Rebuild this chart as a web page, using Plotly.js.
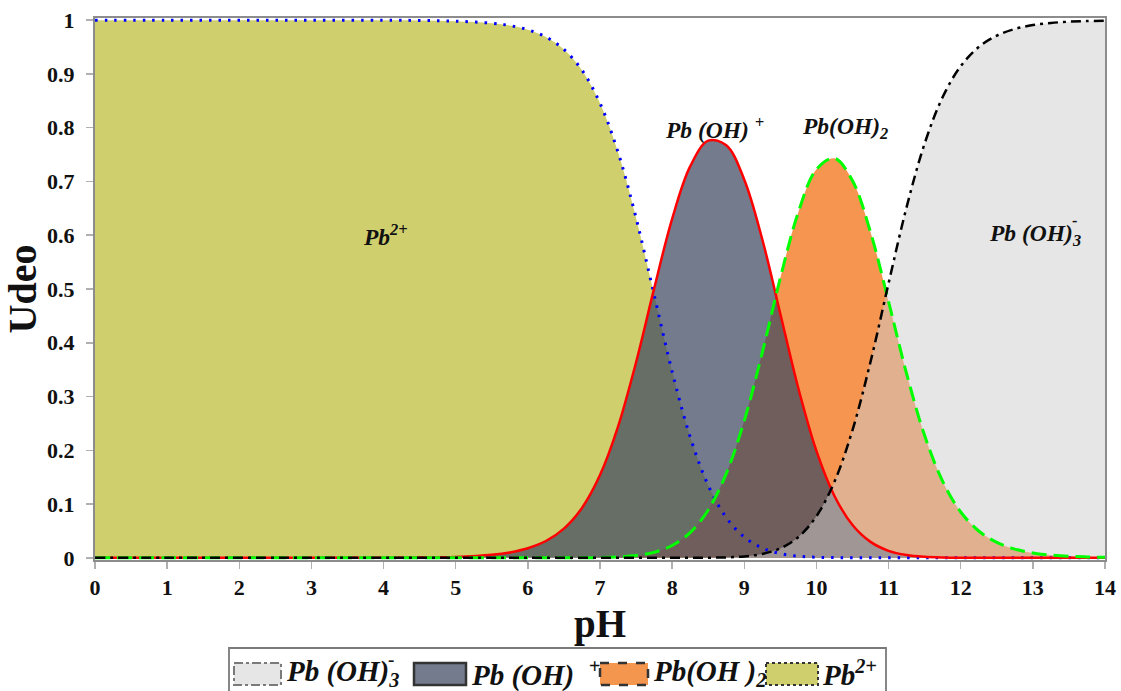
<!DOCTYPE html>
<html>
<head>
<meta charset="utf-8">
<script src="https://cdn.plot.ly/plotly-3.0.1.min.js"></script>
<style>html,body{margin:0;padding:0;background:#fff;}#chart{width:1121px;height:691px;}</style>
</head>
<body>
<div id="chart"></div>
<script>
// pH grid and species fractions
const pH = [0,1,2,3,4,4.5,5,5.5,5.75,6,6.25,6.5,6.75,7,7.25,7.5,7.75,8,8.25,8.5,8.75,9,9.25,9.5,9.75,10,10.25,10.5,10.75,11,11.25,11.5,11.75,12,12.25,12.5,12.75,13,13.25,13.5,13.75,14];
const pb2 = [1,1,1,1,0.9998,0.9994,0.998,0.9943,0.9899,0.9821,0.9687,0.9455,0.907,0.8455,0.7543,0.6321,0.4892,0.3465,0.225,0.1348,0.075,0.0386,0.0183,0.0079,0.0031,0.0011,0.0004,0.0001,0,0,0,0,0,0,0,0,0,0,0,0,0,0];
const pbOH = [0,0,0,0,0.0002,0.0006,0.0018,0.0057,0.0101,0.0179,0.0313,0.0544,0.0928,0.1539,0.2441,0.3637,0.5006,0.6305,0.728,0.7758,0.7674,0.7033,0.5921,0.4536,0.315,0.199,0.1151,0.0611,0.0297,0.0131,0.0053,0.002,0.0007,0.0002,0,0,0,0,0,0,0,0];
const pbOH2 = [0,0,0,0,0,0,0,0,0,0,0,0.0001,0.0002,0.0006,0.0016,0.0042,0.0102,0.0229,0.047,0.0891,0.1567,0.2553,0.3823,0.5208,0.6432,0.7225,0.743,0.7012,0.6055,0.4764,0.3424,0.2274,0.1422,0.0853,0.0499,0.0287,0.0163,0.0092,0.0052,0.0029,0.0017,0.0009];
const pbOH3 = [0,0,0,0,0,0,0,0,0,0,0,0,0,0,0,0,0,0,0.0001,0.0003,0.0009,0.0027,0.0073,0.0176,0.0388,0.0774,0.1416,0.2376,0.3648,0.5105,0.6523,0.7706,0.8571,0.9144,0.9501,0.9713,0.9837,0.9908,0.9948,0.9971,0.9983,0.9991];
const xTicks = [0,1,2,3,4,5,6,7,8,9,10,11,12,13,14];
const yTicks = [0,0.1,0.2,0.3,0.4,0.5,0.6,0.7,0.8,0.9,1];

const serif = 'Liberation Serif, Times New Roman, serif';

function fillTrace(y, color, name) {
  return {x: pH, y: y, type: 'scatter', mode: 'none', fill: 'tozeroy', fillcolor: color,
          line: {shape: 'spline', smoothing: 1}, name: name, hoverinfo: 'skip', showlegend: false};
}
function lineTrace(y, color, dash, width, name) {
  return {x: pH, y: y, type: 'scatter', mode: 'lines',
          line: {color: color, dash: dash, width: width, shape: 'spline', smoothing: 1},
          name: name, hoverinfo: 'skip', showlegend: false};
}

const data = [
  fillTrace(pb2, 'rgb(207,207,110)', 'Pb2+'),
  fillTrace(pbOH2, 'rgb(245,149,80)', 'Pb(OH)2'),
  fillTrace(pbOH, 'rgba(63,74,99,0.73)', 'Pb(OH)+'),
  fillTrace(pbOH3, 'rgba(205,205,205,0.5)', 'Pb(OH)3-'),
  lineTrace(pb2, '#0000ff', '2.5px,7px', 3, 'Pb2+'),
  lineTrace(pbOH, '#ff0000', 'solid', 2.5, 'Pb(OH)+'),
  lineTrace(pbOH2, '#00ff00', '15px,7px', 3, 'Pb(OH)2'),
  lineTrace(pbOH3, '#000000', '10px,5px,3px,5px', 2.5, 'Pb(OH)3-')
];

const lblFont = {family: serif, size: 23.5, color: '#111', weight: 'bold', style: 'italic'};
const legFont = {family: serif, size: 29, color: '#111', weight: 'bold', style: 'italic'};

function px2x(p){ return (p - 95) / 1010; }
function px2y(p){ return (560 - p) / 542; }

const annotations = [
  {x: 4.02, y: 0.6, xref: 'x', yref: 'y', text: 'Pb<sup>2+</sup>', showarrow: false, font: lblFont},
  {x: 8.59, y: 0.8, xref: 'x', yref: 'y', text: 'Pb (OH)&nbsp;<sup>+</sup>', showarrow: false, font: lblFont},
  {x: 10.4, y: 0.8, xref: 'x', yref: 'y', text: 'Pb(OH)<sub>2</sub>', showarrow: false, font: lblFont},
  {x: 13.03, y: 0.6, xref: 'x', yref: 'y', text: 'Pb (OH)<sub>3</sub>', showarrow: false, font: lblFont},
  {x: 13.58, y: 0.628, xref: 'x', yref: 'y', text: '-', showarrow: false, font: {family: serif, size: 16, color: '#111', weight: 'bold'}},
  // custom legend texts
  {x: px2x(284), y: px2y(673), xref: 'paper', yref: 'paper', xanchor: 'left', yanchor: 'middle', text: 'Pb (OH)<sub>3</sub>', showarrow: false, font: legFont},
  {x: px2x(391), y: px2y(659), xref: 'paper', yref: 'paper', xanchor: 'center', yanchor: 'middle', text: '-', showarrow: false, font: {family: serif, size: 19, color: '#111', weight: 'bold'}},
  {x: px2x(469), y: px2y(673), xref: 'paper', yref: 'paper', xanchor: 'left', yanchor: 'middle', text: 'Pb (OH)&nbsp;&nbsp;<sup>+</sup>', showarrow: false, font: legFont},
  {x: px2x(651), y: px2y(673), xref: 'paper', yref: 'paper', xanchor: 'left', yanchor: 'middle', text: 'Pb(OH )<sub>2</sub>', showarrow: false, font: legFont},
  {x: px2x(820), y: px2y(673), xref: 'paper', yref: 'paper', xanchor: 'left', yanchor: 'middle', text: 'Pb<sup>2+</sup>', showarrow: false, font: legFont}
];

function sw(x0, x1, fill, lc, dash, w) {
  return {type: 'rect', xref: 'paper', yref: 'paper', x0: px2x(x0), x1: px2x(x1), y0: px2y(663), y1: px2y(685),
          fillcolor: fill, line: {color: lc, dash: dash, width: w}, layer: 'above'};
}
const shapes = [
  {type: 'rect', xref: 'paper', yref: 'paper', x0: px2x(229), x1: px2x(886), y0: px2y(648), y1: px2y(710),
   fillcolor: 'rgba(0,0,0,0)', line: {color: '#7a7a7a', width: 1.8}},
  sw(234, 281, '#e6e6e6', '#7a7a7a', 'dashdot', 2),
  sw(414, 466, '#737b8d', '#333333', 'solid', 2.5),
  sw(600, 648, '#f5964f', '#333333', 'dash', 2.5),
  sw(766, 818, '#cfcf6e', '#333333', 'dot', 2)
];

const layout = {
  width: 1121, height: 691,
  margin: {l: 95, r: 16, t: 18, b: 131},
  paper_bgcolor: '#ffffff', plot_bgcolor: '#ffffff',
  showlegend: false,
  xaxis: {
    range: [0, 14], tickvals: xTicks, ticktext: xTicks.map(String),
    showgrid: false, zeroline: false, showline: true, mirror: true,
    linecolor: '#8c8c8c', linewidth: 2, ticks: 'outside', ticklen: 7, tickcolor: '#b0b0b0', tickwidth: 1.5,
    tickfont: {family: serif, size: 22, color: '#111', weight: 'bold'},
    title: {text: 'pH', font: {family: serif, size: 39, color: '#111', weight: 'bold'}, standoff: 10}
  },
  yaxis: {
    range: [-0.004, 1.004], tickvals: yTicks, ticktext: yTicks.map(String),
    showgrid: false, zeroline: false, showline: true, mirror: true,
    linecolor: '#8c8c8c', linewidth: 2, ticks: 'outside', ticklen: 7, tickcolor: '#b0b0b0', tickwidth: 1.5,
    tickfont: {family: serif, size: 22, color: '#111', weight: 'bold'},
    ticklabelstandoff: 7,
    title: {text: 'Udeo', font: {family: serif, size: 40, color: '#111', weight: 'bold'}, standoff: 2}
  },
  annotations: annotations,
  shapes: shapes
};

Plotly.newPlot('chart', data, layout, {staticPlot: true, displayModeBar: false});
</script>
</body>
</html>
